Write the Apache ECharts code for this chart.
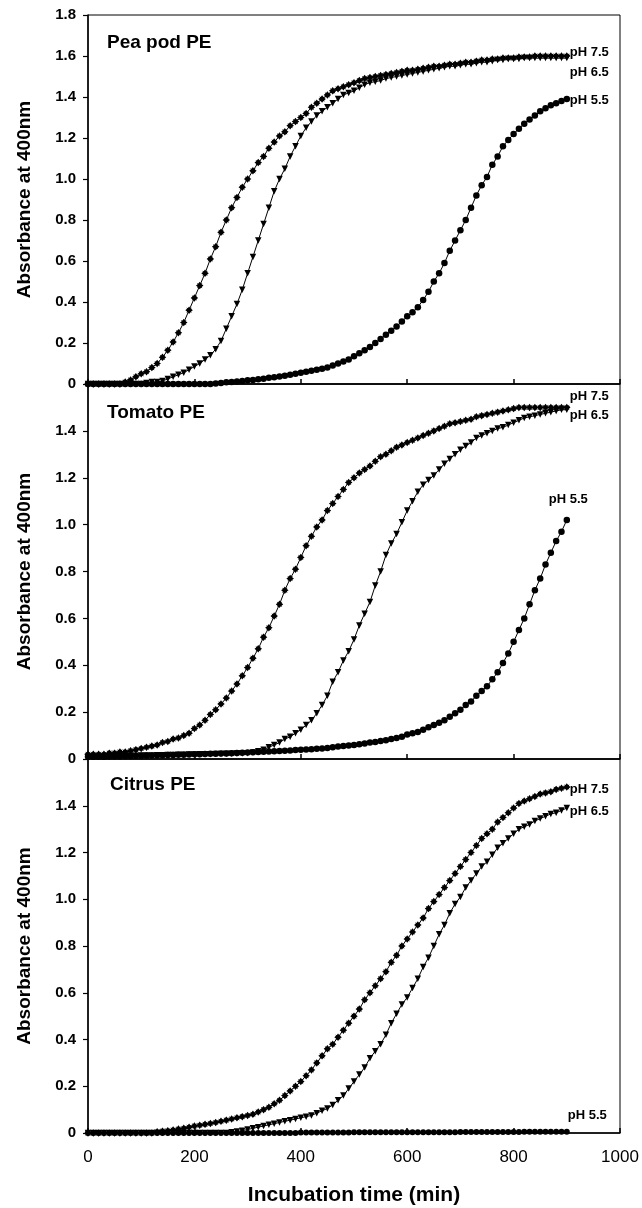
<!DOCTYPE html>
<html>
<head>
<meta charset="utf-8">
<script src="https://cdn.jsdelivr.net/npm/echarts@6/dist/echarts.min.js"></script>
<style>
  html, body { margin: 0; padding: 0; background: #ffffff; }
  #chart { width: 642px; height: 1208px; }
</style>
</head>
<body>
<div id="chart"></div>
<script>
// incubation time (min), one reading every 10 min
var time = [
  0, 10, 20, 30, 40, 50, 60, 70, 80, 90,
  100, 110, 120, 130, 140, 150, 160, 170, 180, 190,
  200, 210, 220, 230, 240, 250, 260, 270, 280, 290,
  300, 310, 320, 330, 340, 350, 360, 370, 380, 390,
  400, 410, 420, 430, 440, 450, 460, 470, 480, 490,
  500, 510, 520, 530, 540, 550, 560, 570, 580, 590,
  600, 610, 620, 630, 640, 650, 660, 670, 680, 690,
  700, 710, 720, 730, 740, 750, 760, 770, 780, 790,
  800, 810, 820, 830, 840, 850, 860, 870, 880, 890,
  900
]

// Pea pod PE
var peaPod75 = [
  0, 0, 0, 0, 0, 0, 0, 0.01, 0.02, 0.035,
  0.05, 0.06, 0.08, 0.1, 0.13, 0.165, 0.205, 0.25, 0.3, 0.36,
  0.42, 0.48, 0.54, 0.61, 0.67, 0.74, 0.8, 0.86, 0.91, 0.96,
  1.0, 1.04, 1.08, 1.11, 1.15, 1.18, 1.21, 1.23, 1.26, 1.28,
  1.3, 1.32, 1.35, 1.37, 1.39, 1.41, 1.43, 1.44, 1.45, 1.46,
  1.47, 1.48, 1.49, 1.495, 1.5, 1.505, 1.51, 1.515, 1.52, 1.525,
  1.53, 1.53, 1.535, 1.54, 1.545, 1.55, 1.55, 1.555, 1.56, 1.56,
  1.565, 1.57, 1.57, 1.575, 1.58, 1.58, 1.585, 1.585, 1.59, 1.59,
  1.59, 1.595, 1.595, 1.595, 1.6, 1.6, 1.6, 1.6, 1.6, 1.6,
  1.6
]
var peaPod65 = [
  0, 0, 0, 0, 0, 0, 0, 0, 0, 0,
  0, 0.005, 0.01, 0.01, 0.015, 0.025, 0.035, 0.045, 0.055, 0.07,
  0.085, 0.1, 0.12, 0.14, 0.17, 0.21, 0.27, 0.33, 0.39, 0.46,
  0.54, 0.62, 0.7, 0.78, 0.86, 0.94, 1.0, 1.05, 1.11, 1.16,
  1.21, 1.25, 1.28, 1.31, 1.33, 1.35, 1.37, 1.39, 1.41, 1.42,
  1.43, 1.445, 1.46, 1.47, 1.475, 1.48, 1.49, 1.495, 1.5, 1.505,
  1.51, 1.515, 1.52, 1.525, 1.53, 1.535, 1.54, 1.545, 1.55, 1.55,
  1.555, 1.56, 1.56, 1.565, 1.57, 1.57, 1.575, 1.58, 1.58, 1.585,
  1.585, 1.585, 1.59, 1.59, 1.59, 1.59, 1.59, 1.59, 1.59, 1.59,
  1.59
]
var peaPod55 = [
  0, 0, 0, 0, 0, 0, 0, 0, 0, 0,
  0, 0, 0, 0, 0, 0, 0, 0, 0, 0,
  0, 0, 0, 0, 0.003, 0.005, 0.008, 0.01, 0.012, 0.015,
  0.018, 0.02, 0.023, 0.026, 0.03, 0.033, 0.036, 0.04, 0.045, 0.05,
  0.055, 0.06, 0.065, 0.07, 0.075, 0.08, 0.09, 0.1, 0.11, 0.12,
  0.135, 0.15, 0.165, 0.18, 0.2, 0.22, 0.24, 0.26, 0.28, 0.305,
  0.33, 0.35, 0.375, 0.41, 0.45, 0.5, 0.54, 0.59, 0.65, 0.7,
  0.75, 0.8, 0.86, 0.92, 0.97, 1.01, 1.07, 1.11, 1.16, 1.19,
  1.22, 1.245, 1.27, 1.29, 1.31, 1.33, 1.345, 1.36, 1.37, 1.38,
  1.39
]

// Tomato PE
var tomato75 = [
  0.02, 0.02, 0.02, 0.02, 0.025, 0.025, 0.03, 0.03, 0.035, 0.04,
  0.045, 0.05, 0.055, 0.06, 0.07, 0.075, 0.085, 0.09, 0.1, 0.11,
  0.13, 0.145, 0.165, 0.19, 0.21, 0.235, 0.26, 0.29, 0.32, 0.355,
  0.39, 0.43, 0.47, 0.52, 0.56, 0.61, 0.66, 0.72, 0.77, 0.81,
  0.86, 0.91, 0.95, 0.99, 1.02, 1.06, 1.09, 1.12, 1.15, 1.18,
  1.2, 1.22, 1.235, 1.25, 1.27, 1.29, 1.3, 1.315, 1.33, 1.34,
  1.35, 1.36, 1.37, 1.38, 1.39, 1.4, 1.41, 1.42, 1.43, 1.435,
  1.44, 1.445, 1.45, 1.46, 1.465, 1.47, 1.475, 1.48, 1.485, 1.49,
  1.495, 1.5, 1.5, 1.5, 1.5, 1.5, 1.5, 1.5, 1.5, 1.5,
  1.5
]
var tomato65 = [
  0.01, 0.01, 0.01, 0.01, 0.01, 0.012, 0.012, 0.012, 0.014, 0.014,
  0.015, 0.015, 0.015, 0.016, 0.016, 0.017, 0.017, 0.018, 0.018, 0.019,
  0.019, 0.02, 0.02, 0.02, 0.021, 0.021, 0.022, 0.022, 0.023, 0.024,
  0.025, 0.028, 0.033, 0.04, 0.05, 0.06, 0.07, 0.085, 0.095, 0.11,
  0.125, 0.145, 0.165, 0.195, 0.23, 0.27, 0.33, 0.37, 0.42, 0.46,
  0.51, 0.57, 0.62, 0.67, 0.74, 0.8, 0.87, 0.92, 0.96, 1.01,
  1.06, 1.1, 1.14, 1.17, 1.19, 1.21, 1.235, 1.26, 1.28, 1.3,
  1.32, 1.335, 1.35, 1.37, 1.38, 1.39, 1.4, 1.41, 1.415, 1.425,
  1.435, 1.445, 1.455, 1.46, 1.465, 1.47, 1.475, 1.48, 1.485, 1.49,
  1.49
]
var tomato55 = [
  0.01, 0.01, 0.01, 0.01, 0.012, 0.012, 0.012, 0.013, 0.013, 0.014,
  0.014, 0.015, 0.015, 0.016, 0.016, 0.017, 0.017, 0.018, 0.018, 0.019,
  0.02, 0.02, 0.021, 0.022, 0.022, 0.023, 0.024, 0.025, 0.026, 0.027,
  0.028, 0.029, 0.03, 0.031, 0.032, 0.033, 0.034, 0.035, 0.036, 0.038,
  0.04, 0.041, 0.042, 0.044, 0.045, 0.047, 0.05, 0.053, 0.056, 0.058,
  0.06, 0.063, 0.066, 0.07, 0.073, 0.077, 0.08, 0.085, 0.09, 0.095,
  0.105, 0.11, 0.115, 0.125, 0.135, 0.145, 0.155, 0.165, 0.18, 0.195,
  0.21, 0.23, 0.245, 0.27, 0.29, 0.31, 0.34, 0.37, 0.41, 0.45,
  0.5, 0.55, 0.6, 0.66, 0.72, 0.77, 0.83, 0.88, 0.93, 0.97,
  1.02
]

// Citrus PE
var citrus75 = [
  0, 0, 0, 0, 0, 0, 0, 0, 0, 0,
  0, 0, 0, 0.005, 0.008, 0.01, 0.013, 0.017, 0.02, 0.025,
  0.03, 0.033, 0.037, 0.041, 0.045, 0.05, 0.055, 0.06, 0.065, 0.07,
  0.075, 0.08, 0.09, 0.1, 0.11, 0.125, 0.14, 0.16, 0.18, 0.2,
  0.22, 0.245, 0.27, 0.3, 0.33, 0.36, 0.38, 0.41, 0.44, 0.47,
  0.5, 0.53, 0.57, 0.6, 0.63, 0.66, 0.69, 0.73, 0.76, 0.8,
  0.83, 0.86, 0.89, 0.92, 0.96, 0.99, 1.02, 1.05, 1.08, 1.11,
  1.14, 1.17, 1.2, 1.23, 1.26, 1.28, 1.3, 1.33, 1.35, 1.37,
  1.39, 1.41, 1.42, 1.43, 1.44, 1.45, 1.455, 1.46, 1.47, 1.475,
  1.48
]
var citrus65 = [
  0, 0, 0, 0, 0, 0, 0, 0, 0, 0,
  0, 0, 0, 0, 0, 0, 0, 0, 0, 0,
  0, 0, 0, 0, 0, 0, 0, 0.003, 0.006, 0.01,
  0.015, 0.02, 0.025, 0.03, 0.035, 0.04, 0.045, 0.05, 0.055, 0.06,
  0.065, 0.07, 0.075, 0.085, 0.095, 0.105, 0.12, 0.14, 0.16, 0.19,
  0.22, 0.25, 0.28, 0.32, 0.35, 0.38, 0.42, 0.47, 0.51, 0.55,
  0.58, 0.62, 0.66, 0.71, 0.75, 0.8, 0.85, 0.89, 0.94, 0.98,
  1.01, 1.05, 1.08, 1.11, 1.14, 1.16, 1.19, 1.22, 1.24, 1.26,
  1.28, 1.3, 1.31, 1.32, 1.335, 1.345, 1.355, 1.365, 1.37, 1.38,
  1.39
]
var citrus55 = [
  0, 0, 0, 0, 0, 0, 0, 0, 0, 0,
  0, 0, 0, 0, 0, 0, 0, 0, 0, 0,
  0, 0, 0, 0, 0, 0, 0, 0, 0, 0,
  0, 0, 0, 0, 0, 0, 0, 0, 0, 0,
  0.002, 0.002, 0.002, 0.002, 0.002, 0.002, 0.002, 0.002, 0.002, 0.002,
  0.003, 0.003, 0.003, 0.003, 0.003, 0.003, 0.003, 0.003, 0.003, 0.003,
  0.003, 0.003, 0.003, 0.003, 0.003, 0.003, 0.003, 0.003, 0.003, 0.003,
  0.004, 0.004, 0.004, 0.004, 0.004, 0.004, 0.004, 0.004, 0.004, 0.004,
  0.004, 0.004, 0.005, 0.005, 0.005, 0.005, 0.005, 0.005, 0.005, 0.005,
  0.005
]

var panelTitles = ['Pea pod PE', 'Tomato PE', 'Citrus PE']
var panelMax = [1.8, 1.6, 1.6]

var FONT = '"Liberation Sans", Arial, sans-serif'
// chunky 8-point star, reads as the blurred asterisk of the scan
var starSymbol = 'path://M0,-10 L3.6,-5.4 L7,-7 L5.4,-3.6 L10,0 L5.4,3.6 L7,7 L3.6,5.4 L0,10 L-3.6,5.4 L-7,7 L-5.4,3.6 L-10,0 L-5.4,-3.6 L-7,-7 L-3.6,-5.4 Z'

function pairs (values) {
  return time.map(function (t, i) { return [t, values[i]] })
}

// one line series; lbl = [dx, dy] nudge of the pH label at the end
function makeSeries (name, idx, values, symbol, size, rotate, lbl) {
  return {
    name: name,
    type: 'line',
    xAxisIndex: idx,
    yAxisIndex: idx,
    data: pairs(values),
    symbol: symbol,
    symbolSize: size,
    symbolRotate: rotate,
    showAllSymbol: true,
    lineStyle: { color: '#000', width: 1 },
    itemStyle: { color: '#000', borderWidth: 0 },
    endLabel: {
      show: true,
      formatter: name,
      distance: 3,
      offset: lbl,
      color: '#000',
      fontFamily: FONT,
      fontWeight: 'bold',
      fontSize: 13
    },
    emphasis: { disabled: true },
    z: 3
  }
}

var grids = [
  { left: 88, right: 22, top: 15, height: 369 },
  { left: 88, right: 22, top: 384, height: 375 },
  { left: 88, right: 22, top: 759, height: 374 }
]
grids.forEach(function (g) {
  g.show = true
  g.borderColor = '#000'
  g.borderWidth = 1
  g.backgroundColor = 'transparent'
})

var xAxes = []
var yAxes = []
for (let i = 0; i < 3; i++) {
  xAxes.push({
    type: 'value',
    gridIndex: i,
    min: 0,
    max: 1000,
    interval: 200,
    name: i === 2 ? 'Incubation time (min)' : '',
    nameLocation: 'middle',
    nameGap: 52,
    nameTextStyle: { color: '#000', fontFamily: FONT, fontWeight: 'bold', fontSize: 21 },
    axisLine: { show: true, onZero: false, lineStyle: { color: '#000', width: 1.5 } },
    axisTick: { show: true, inside: true, length: 5, lineStyle: { color: '#000', width: 1.5 } },
    axisLabel: {
      show: i === 2,
      margin: 16,
      color: '#000',
      fontFamily: FONT,
      fontSize: 17,
      formatter: function (v) { return String(v) }
    },
    splitLine: { show: false }
  })
  yAxes.push({
    type: 'value',
    gridIndex: i,
    min: 0,
    max: panelMax[i],
    interval: 0.2,
    name: 'Absorbance at 400nm',
    nameLocation: 'middle',
    nameGap: 54,
    nameTextStyle: { color: '#000', fontFamily: FONT, fontWeight: 'bold', fontSize: 19 },
    axisLine: { show: true, onZero: false, lineStyle: { color: '#000', width: 1.5 } },
    axisTick: { show: true, inside: false, length: 5, lineStyle: { color: '#000', width: 1.2 } },
    axisLabel: {
      margin: 12,
      color: '#000',
      fontFamily: FONT,
      fontWeight: 'bold',
      fontSize: 15,
      showMaxLabel: i === 0,
      formatter: function (v) { return v === 0 ? '0' : v.toFixed(1) }
    },
    splitLine: { show: false }
  })
}

var series = [
  makeSeries('pH 7.5', 0, peaPod75, starSymbol, 7.5, 0, [0, -4]),
  makeSeries('pH 6.5', 0, peaPod65, 'triangle', 6.5, 180, [0, 14]),
  makeSeries('pH 5.5', 0, peaPod55, 'circle', 6.5, 0, [0, 1]),
  makeSeries('pH 7.5', 1, tomato75, starSymbol, 7.5, 0, [0, -11]),
  makeSeries('pH 6.5', 1, tomato65, 'triangle', 6.5, 180, [0, 6]),
  makeSeries('pH 5.5', 1, tomato55, 'circle', 6.5, 0, [-21, -21]),
  makeSeries('pH 7.5', 2, citrus75, starSymbol, 7.5, 0, [0, 2]),
  makeSeries('pH 6.5', 2, citrus65, 'triangle', 6.5, 180, [0, 3]),
  makeSeries('pH 5.5', 2, citrus55, 'circle', 6, 0, [-2, -16])
]

var titleTops = [33, 403, 775]
var titleLefts = [107, 107, 110]
var graphics = panelTitles.map(function (txt, i) {
  return {
    type: 'text',
    left: titleLefts[i],
    top: titleTops[i],
    style: { text: txt, fill: '#000', font: 'bold 19px ' + FONT }
  }
})

var myChart = echarts.init(document.getElementById('chart'), null, { renderer: 'canvas' })
myChart.setOption({
  animation: false,
  backgroundColor: '#ffffff',
  grid: grids,
  xAxis: xAxes,
  yAxis: yAxes,
  series: series,
  graphic: graphics
})
</script>
</body>
</html>
